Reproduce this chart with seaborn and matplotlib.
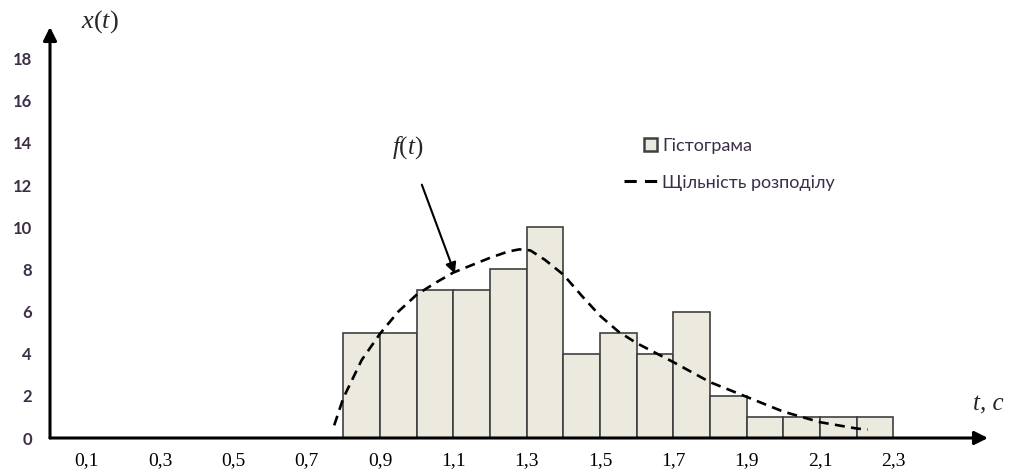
import matplotlib
matplotlib.use("Agg")
import matplotlib.pyplot as plt
import seaborn as sns
from matplotlib.patches import Patch, Rectangle
from matplotlib.lines import Line2D
from matplotlib.legend_handler import HandlerPatch

# histogram bins (seconds) and counts
bin_edges = [0.8, 0.9, 1.0, 1.1, 1.2, 1.3, 1.4, 1.5, 1.6, 1.7, 1.8, 1.9, 2.0, 2.1, 2.2, 2.3]
counts = [5, 5, 7, 7, 8, 10, 4, 5, 4, 6, 2, 1, 1, 1, 1]

# density curve
curve_t = [0.775, 0.80, 0.85, 0.90, 0.95, 1.00, 1.05, 1.10, 1.15, 1.20, 1.25, 1.28, 1.31,
           1.35, 1.40, 1.45, 1.50, 1.55, 1.60, 1.65, 1.70, 1.80, 1.90, 2.00, 2.10, 2.20, 2.23]
curve_f = [0.6, 1.9, 3.7, 4.95, 6.0, 6.8, 7.35, 7.85, 8.2, 8.55, 8.85, 8.95, 8.9,
           8.45, 7.75, 6.75, 5.8, 5.05, 4.5, 4.05, 3.6, 2.65, 1.95, 1.25, 0.75, 0.45, 0.40]

x_ticks = [0.1, 0.2, 0.3, 0.4, 0.5, 0.6, 0.7, 0.8, 0.9, 1.0, 1.1, 1.2,
           1.3, 1.4, 1.5, 1.6, 1.7, 1.8, 1.9, 2.0, 2.1, 2.2, 2.3]
x_labels = ["0,1", "", "0,3", "", "0,5", "", "0,7", "", "0,9", "", "1,1", "",
            "1,3", "", "1,5", "", "1,7", "", "1,9", "", "2,1", "", "2,3"]
y_ticks = [0, 2, 4, 6, 8, 10, 12, 14, 16, 18]

sns.set_theme(style="white")
plt.rcParams["font.family"] = ["Lato", "DejaVu Sans"]
plt.rcParams["mathtext.fontset"] = "custom"
plt.rcParams["mathtext.rm"] = "Liberation Serif"
plt.rcParams["mathtext.it"] = "Liberation Serif:italic"

fig = plt.figure(figsize=(10.13, 4.73), dpi=100)
ax = fig.add_axes([50 / 1013, 35 / 473, 938 / 1013, 411 / 473])

bar_fill = "#ECEADF"
bar_edge = "#404040"
centers = [(a + b) / 2 for a, b in zip(bin_edges[:-1], bin_edges[1:])]
sns.histplot(x=centers, weights=counts, bins=bin_edges, ax=ax, color=bar_fill,
             edgecolor=bar_edge, linewidth=1.2, alpha=1)

sns.lineplot(x=curve_t, y=curve_f, ax=ax, color="black", linewidth=1.9,
             linestyle=(0, (3.8, 2.4)), zorder=5)

ax.set_xlim(0, 2.558)
ax.set_ylim(0, 19.5)
for s in ax.spines.values():
    s.set_visible(False)
ax.set_xlabel("")
ax.set_ylabel("")

ax.set_xticks(x_ticks)
ax.set_xticklabels(x_labels, family="Liberation Serif", fontsize=14, color="black")
ax.set_yticks(y_ticks)
ax.set_yticklabels([str(v) for v in y_ticks], fontsize=12, fontweight="bold", color="#3b2f48")
ax.tick_params(axis="x", direction="in", length=4, width=1, color="#808080", pad=10)
ax.tick_params(axis="y", direction="in", length=5, width=1, color="#808080", pad=13)

# axes with arrow heads
arrow = dict(arrowstyle="-|>", lw=2.2, color="black", mutation_scale=20, shrinkA=0, shrinkB=0)
ax.annotate("", xy=(2.558, 0), xytext=(0, 0), arrowprops=arrow, annotation_clip=False, zorder=6)
ax.annotate("", xy=(0, 19.5), xytext=(0, 0), arrowprops=arrow, annotation_clip=False, zorder=6)

ax.text(0.136, 19.75, r"$x(t)$", fontsize=19, ha="center", va="center", clip_on=False)
ax.text(2.56, 1.57, "t, c", fontsize=18, family="Liberation Serif", style="italic",
        ha="center", va="center", clip_on=False)

ax.annotate(r"$f(t)$", xy=(1.104, 7.8), xytext=(0.976, 13.8), fontsize=18,
            ha="center", va="center",
            arrowprops=dict(arrowstyle="-|>", lw=1.5, color="black", mutation_scale=16,
                            shrinkA=16, shrinkB=0))


def square_patch(legend, orig_handle, xdescent, ydescent, width, height, fontsize):
    side = height * 1.0
    return Rectangle((width - side - xdescent, -ydescent + (height - side) / 2), side, side)


handles = [Patch(facecolor=bar_fill, edgecolor=bar_edge, linewidth=1.8),
           Line2D([0], [0], color="black", lw=2.2, linestyle=(0, (4.0, 2.7)))]
leg = ax.legend(handles, ["Гістограма", "Щільність розподілу"], loc="upper left",
                bbox_to_anchor=(0.595, 0.770), frameon=False, fontsize=13,
                handlelength=1.8, handletextpad=0.3, labelspacing=1.15,
                handler_map={Patch: HandlerPatch(patch_func=square_patch)})
for t in leg.get_texts():
    t.set_color("#3b2f48")

fig.savefig("out.png", dpi=100)
